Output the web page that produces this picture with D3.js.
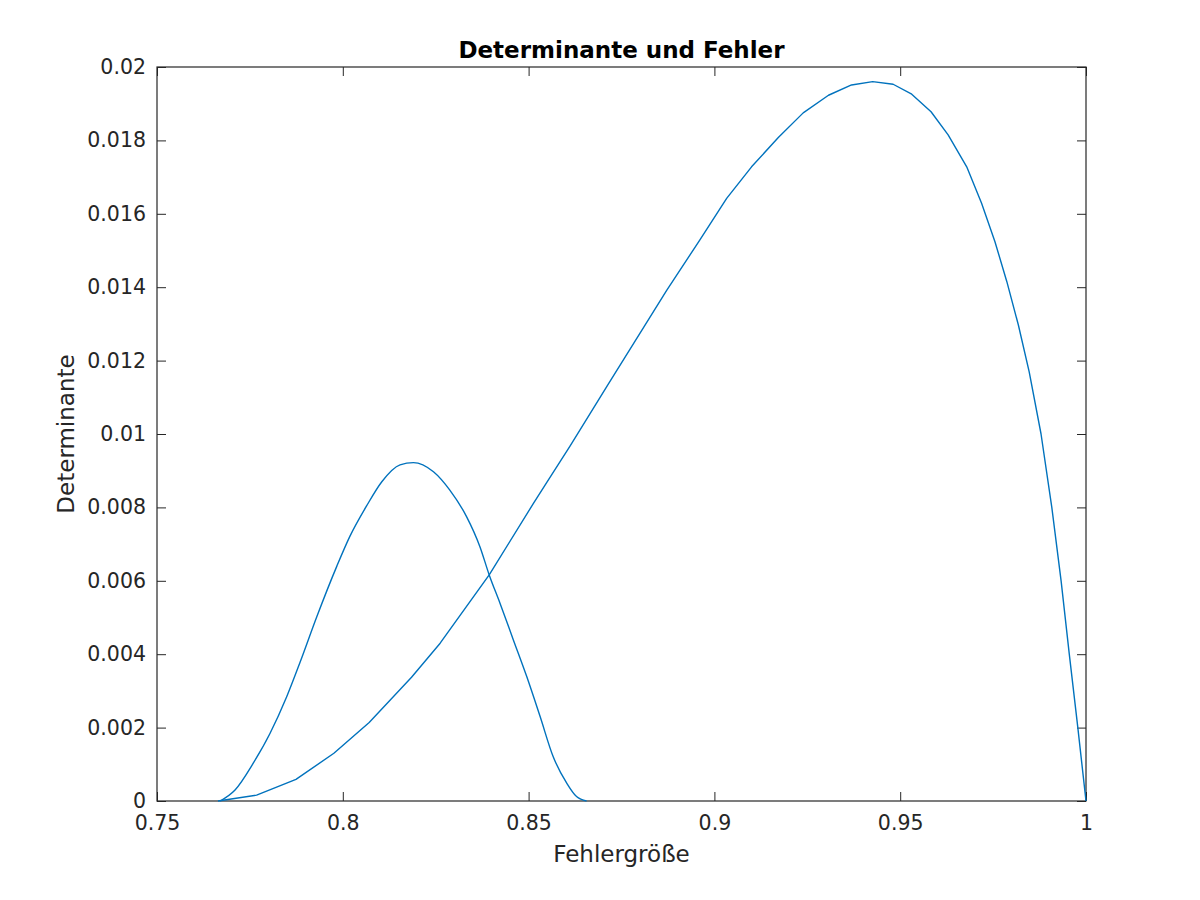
<!DOCTYPE html>
<html>
<head>
<meta charset="utf-8">
<script src="https://cdn.jsdelivr.net/npm/d3@7"></script>
<style>
  html, body { margin: 0; padding: 0; background: #fff; }
  svg { display: block; }
  text { font-family: "DejaVu Sans", sans-serif; }
</style>
</head>
<body>
<svg id="chart" width="1200" height="900"></svg>
<script>
// ---- data ----
const titleText = "Determinante und Fehler";
const xLabel = "Fehlergröße";
const yLabel = "Determinante";

const xTicks = [0.75, 0.8, 0.85, 0.9, 0.95, 1];
const xTickLabels = ["0.75", "0.8", "0.85", "0.9", "0.95", "1"];
const yTicks = [0, 0.002, 0.004, 0.006, 0.008, 0.01, 0.012, 0.014, 0.016, 0.018, 0.02];
const yTickLabels = ["0", "0.002", "0.004", "0.006", "0.008", "0.01", "0.012", "0.014", "0.016", "0.018", "0.02"];

// small curve (peak ~0.0092 at ~0.819)
const smallX = [0.7670, 0.7710, 0.7759, 0.7804, 0.7849, 0.7885, 0.7930, 0.7984, 0.8019, 0.8064,
                0.8105, 0.8154, 0.8190, 0.8244, 0.8288, 0.8333, 0.8369, 0.8394, 0.8423, 0.8459,
                0.8495, 0.8531, 0.8566, 0.8603, 0.8629, 0.8656];
const smallY = [0.00000, 0.00030, 0.00103, 0.00184, 0.00284, 0.00378, 0.00502, 0.00640, 0.00721, 0.00804,
                0.00870, 0.00916, 0.00922, 0.00897, 0.00847, 0.00775, 0.00693, 0.00616, 0.00539, 0.00439,
                0.00339, 0.00230, 0.00121, 0.00048, 0.00012, 0.00000];

// big curve (peak ~0.0196 at ~0.943)
const bigX = [0.7664, 0.7768, 0.7874, 0.7976, 0.8071, 0.8185, 0.8262, 0.8394, 0.8513, 0.8549,
              0.8611, 0.8714, 0.8872, 0.8961, 0.9033, 0.9100, 0.9172, 0.9239, 0.9307, 0.9369,
              0.9426, 0.9481, 0.9531, 0.9583, 0.9629, 0.9679, 0.9719, 0.9755, 0.9787, 0.9818,
              0.9847, 0.9879, 0.9908, 0.9933, 0.9955, 0.9978, 1.0000];
const bigY = [0.00000, 0.00016, 0.00059, 0.00130, 0.00214, 0.00337, 0.00430, 0.00616, 0.00811, 0.00868,
              0.00966, 0.01135, 0.01392, 0.01529, 0.01642, 0.01728, 0.01808, 0.01875, 0.01923, 0.01951,
              0.01960, 0.01953, 0.01926, 0.01878, 0.01815, 0.01728, 0.01629, 0.01524, 0.01415, 0.01297,
              0.01170, 0.01000, 0.00800, 0.00600, 0.00400, 0.00200, 0.00000];

// ---- layout ----
const L = 157, R = 1086, T = 67, B = 801;
const svg = d3.select("#chart");
const x = d3.scaleLinear().domain([0.75, 1]).range([L, R]);
const y = d3.scaleLinear().domain([0, 0.02]).range([B, T]);
const axisColor = "#262626";
const tickLen = 9;

function styleAxis(g) {
  g.select(".domain").remove();
  g.selectAll(".tick line").attr("stroke", axisColor).attr("stroke-width", 1);
  g.selectAll(".tick text").attr("fill", axisColor).style("font-size", "20.5px")
    .style("font-family", "DejaVu Sans, sans-serif");
}

svg.append("g").attr("transform", `translate(0,${B})`)
  .call(d3.axisBottom(x).tickValues(xTicks).tickSizeInner(-tickLen).tickSizeOuter(0).tickPadding(14)
        .tickFormat((d, i) => xTickLabels[i]))
  .call(styleAxis);
svg.append("g").attr("transform", `translate(0,${T})`)
  .call(d3.axisTop(x).tickValues(xTicks).tickSizeInner(-tickLen).tickSizeOuter(0).tickFormat(""))
  .call(styleAxis);
svg.append("g").attr("transform", `translate(${L},0)`)
  .call(d3.axisLeft(y).tickValues(yTicks).tickSizeInner(-tickLen).tickSizeOuter(0).tickPadding(11)
        .tickFormat((d, i) => yTickLabels[i]))
  .call(styleAxis);
svg.append("g").attr("transform", `translate(${R},0)`)
  .call(d3.axisRight(y).tickValues(yTicks).tickSizeInner(-tickLen).tickSizeOuter(0).tickFormat(""))
  .call(styleAxis);

// box
svg.append("rect").attr("x", L).attr("y", T).attr("width", R - L).attr("height", B - T)
  .attr("fill", "none").attr("stroke", axisColor).attr("stroke-width", 1.2);

// lines
const smallData = smallX.map((v, i) => [v, smallY[i]]);
const bigData = bigX.map((v, i) => [v, bigY[i]]);
const plot = svg.append("g");
plot.append("path").datum(bigData)
  .attr("d", d3.line().x(d => x(d[0])).y(d => y(d[1])).curve(d3.curveLinear))
  .attr("fill", "none").attr("stroke", "#0072BD").attr("stroke-width", 1.4)
  .attr("stroke-linejoin", "round");
plot.append("path").datum(smallData)
  .attr("d", d3.line().x(d => x(d[0])).y(d => y(d[1])).curve(d3.curveMonotoneX))
  .attr("fill", "none").attr("stroke", "#0072BD").attr("stroke-width", 1.4)
  .attr("stroke-linejoin", "round");

// title & labels
svg.append("text").attr("x", (L + R) / 2).attr("y", 58).attr("text-anchor", "middle")
  .style("font-size", "23px").style("font-weight", "bold").attr("fill", "#000").text(titleText);
svg.append("text").attr("x", (L + R) / 2).attr("y", 862).attr("text-anchor", "middle")
  .style("font-size", "23px").attr("fill", axisColor).text(xLabel);
svg.append("text").attr("transform", `translate(74,${(T + B) / 2}) rotate(-90)`)
  .attr("text-anchor", "middle")
  .style("font-size", "23px").attr("fill", axisColor).text(yLabel);
</script>
</body>
</html>
